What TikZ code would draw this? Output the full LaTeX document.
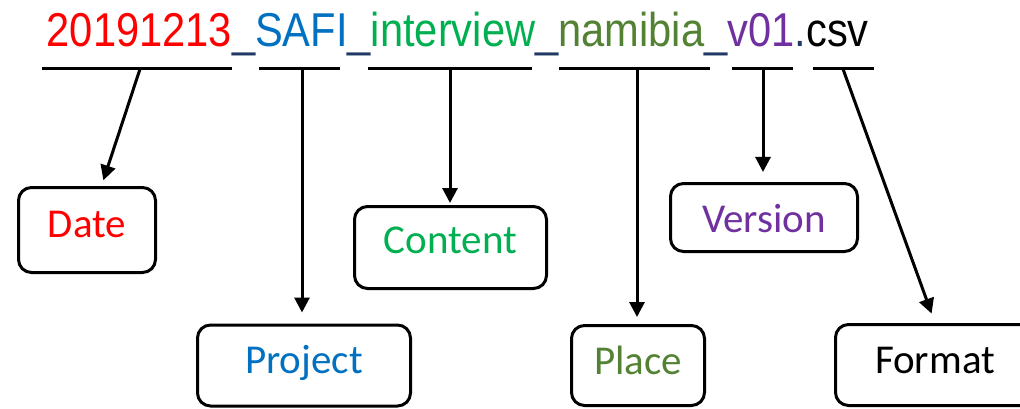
\documentclass[tikz,border=0pt]{standalone}
\usepackage{fontspec}
\setmainfont{Carlito}
\newfontfamily\titlefont{Liberation Sans}
\usetikzlibrary{arrows.meta}

\definecolor{cdate}{HTML}{FF0000}
\definecolor{cproj}{HTML}{0070C0}
\definecolor{ccont}{HTML}{00B050}
\definecolor{cplace}{HTML}{548235}
\definecolor{cver}{HTML}{7030A0}
\definecolor{csep}{HTML}{1F3864}

\tikzset{
  part/.style={draw=black, line width=3pt, rounded corners=13pt, inner sep=0pt,
    font=\fontsize{41}{45}\selectfont},
  lift/.style={text height=#1, text depth=0pt},
  uline/.style={line width=3pt, line cap=butt},
  pointer/.style={line width=3pt, -{Triangle[length=15pt,width=15pt]}},
}

\begin{document}
\begin{tikzpicture}[x=1pt,y=-1pt]
\clip (0,0) rectangle (1020,409);
\useasboundingbox (0,0) rectangle (1020,409);

% the file name
\node[anchor=base west, inner sep=0pt] (fname) at (46.5,47)
  {\scalebox{0.877}[1]{\titlefont\fontsize{47.5}{50}\selectfont
   \textcolor{cdate}{20191213}\textcolor{csep}{\_}\textcolor{cproj}{SAFI}\textcolor{csep}{\_}%
   \textcolor{ccont}{interview}\textcolor{csep}{\_}\textcolor{cplace}{namibia}\textcolor{csep}{\_}%
   \textcolor{cver}{v01}\textcolor{csep}{.}\textcolor{black}{csv}}};

% underlines of the name parts, and where each pointer leaves them
\draw[uline] (42,69) -- (232,69);
\draw[uline] (259,69) -- (340,69);
\draw[uline] (368,69) -- (532,69);
\draw[uline] (559,69) -- (710,69);
\draw[uline] (732,69) -- (793,69);
\draw[uline] (813,69) -- (874,69);
\coordinate (sdate) at (140,69);
\coordinate (sproj) at (302,69);
\coordinate (scont) at (450,69);
\coordinate (splace) at (637,69);
\coordinate (sver) at (763,69);
\coordinate (sfmt) at (843,69);

% part boxes
\node[part, text=cdate, minimum width=137, minimum height=85, lift=14pt] (date) at (87,230) {Date};
\node[part, text=cproj, minimum width=213, minimum height=81, lift=15pt] (proj) at (304,365.5) {Project};
\node[part, text=ccont, minimum width=192, minimum height=82, lift=11pt] (cont) at (450.5,247.5) {Content};
\node[part, text=cver, minimum width=187, minimum height=68, lift=29pt] (ver) at (764,217.5) {Version};
\node[part, text=cplace, minimum width=133, minimum height=80, lift=17pt] (place) at (638,365.5) {Place};
\node[part, text=black, minimum width=199, minimum height=81, lift=16pt] (fmt) at (935,365) {Format};

% pointers
\draw[pointer, shorten >=6pt] (sdate) -- (date);
\draw[pointer, shorten >=11pt] (sproj) -- (sproj |- proj.north);
\draw[pointer, shorten >=2pt] (scont) -- (scont |- cont.north);
\draw[pointer, shorten >=7pt] (splace) -- (splace |- place.north);
\draw[pointer, shorten >=10pt] (sver) -- (sver |- ver.north);
\draw[pointer, shorten >=10pt] (sfmt) -- (fmt.north);
\end{tikzpicture}
\end{document}
